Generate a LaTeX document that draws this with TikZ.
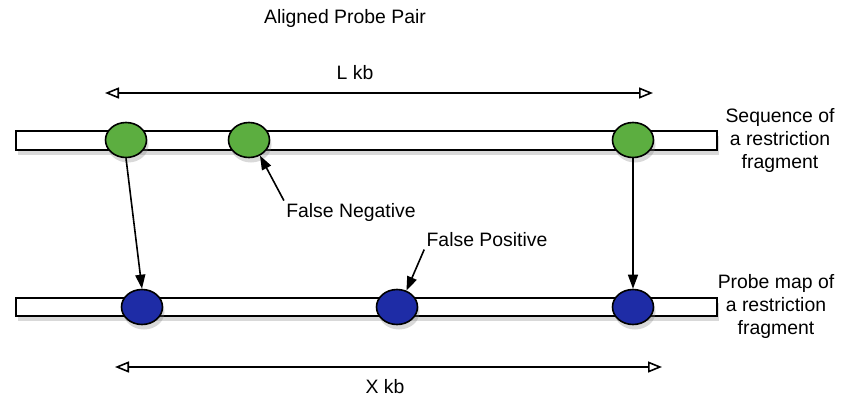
\documentclass[tikz,border=0pt]{standalone}
\usepackage{fontspec}
\setmainfont{Liberation Sans}
\usepackage{xcolor,tikz}
\usetikzlibrary{arrows,arrows.meta,positioning,shapes.geometric,shadows}
\tikzset{>=stealth}
\definecolor{probegreen}{RGB}{92,174,64}
\definecolor{probeblue}{RGB}{30,44,166}
\tikzset{
  fragbar/.style={draw, thick, fill=white, drop shadow={shadow xshift=1pt, shadow yshift=-2.5pt, opacity=0.3}},
  site/.style={ellipse, draw, thick, inner sep=0pt, minimum width=20.5pt, minimum height=17.5pt, drop shadow={shadow xshift=1pt, shadow yshift=-2.5pt, opacity=0.3}},
  dim/.style={thick, {Triangle[open,length=7pt,width=5.5pt]}-{Triangle[open,length=7pt,width=5.5pt]}},
  pointer/.style={thick, -{Triangle[length=7pt,width=5pt]}},
  lbl/.style={font=\fontsize{9.7}{11.5}\selectfont, align=center, inner sep=1pt}
}

\begin{document}
\begin{tikzpicture}[x=0.5pt, y=-0.5pt]
\useasboundingbox (0,0) rectangle (848,397);
\node[lbl] (title) at (345,18) {Aligned Probe Pair};
%%%% sequence of the fragment
\draw[fragbar] (16,131) rectangle (717,150);
\node[site, fill=probegreen] (g1) at (126,140) {};
\node[site, fill=probegreen] (g2) at (249,140) {};
\node[site, fill=probegreen] (g3) at (633,140) {};
\node[lbl] (seq) at (780,140) {Sequence of\\a restriction\\fragment};
%%%% probe map
\draw[fragbar] (16,298) rectangle (717,316);
\node[site, fill=probeblue] (b1) at (142,307) {};
\node[site, fill=probeblue] (b2) at (397,307) {};
\node[site, fill=probeblue] (b3) at (633,307) {};
\node[lbl] (map) at (776,306) {Probe map of\\a restriction\\fragment};
%%%% lengths
\coordinate (lleft) at (105,93);
\coordinate (lright) at (653,93);
\draw[dim] (lleft) -- (lright);
\node[lbl] (lkb) at (355,73) {L kb};
\coordinate (xleft) at (115,367);
\coordinate (xright) at (662,367);
\draw[dim] (xleft) -- (xright);
\node[lbl] (xkb) at (385,387) {X kb};
%%%% alignment
\draw[pointer] (g1.south) -- (b1.north);
\draw[pointer] (g3.south) -- (b3.north);
%%%% errors
\node[lbl] (fn) at (351,212) {False Negative};
\draw[pointer] (fn.north west) -- (g2.-55);
\node[lbl] (fp) at (487,240) {False Positive};
\draw[pointer] (fp.south west) -- (b2.60);
\end{tikzpicture}
\end{document}
